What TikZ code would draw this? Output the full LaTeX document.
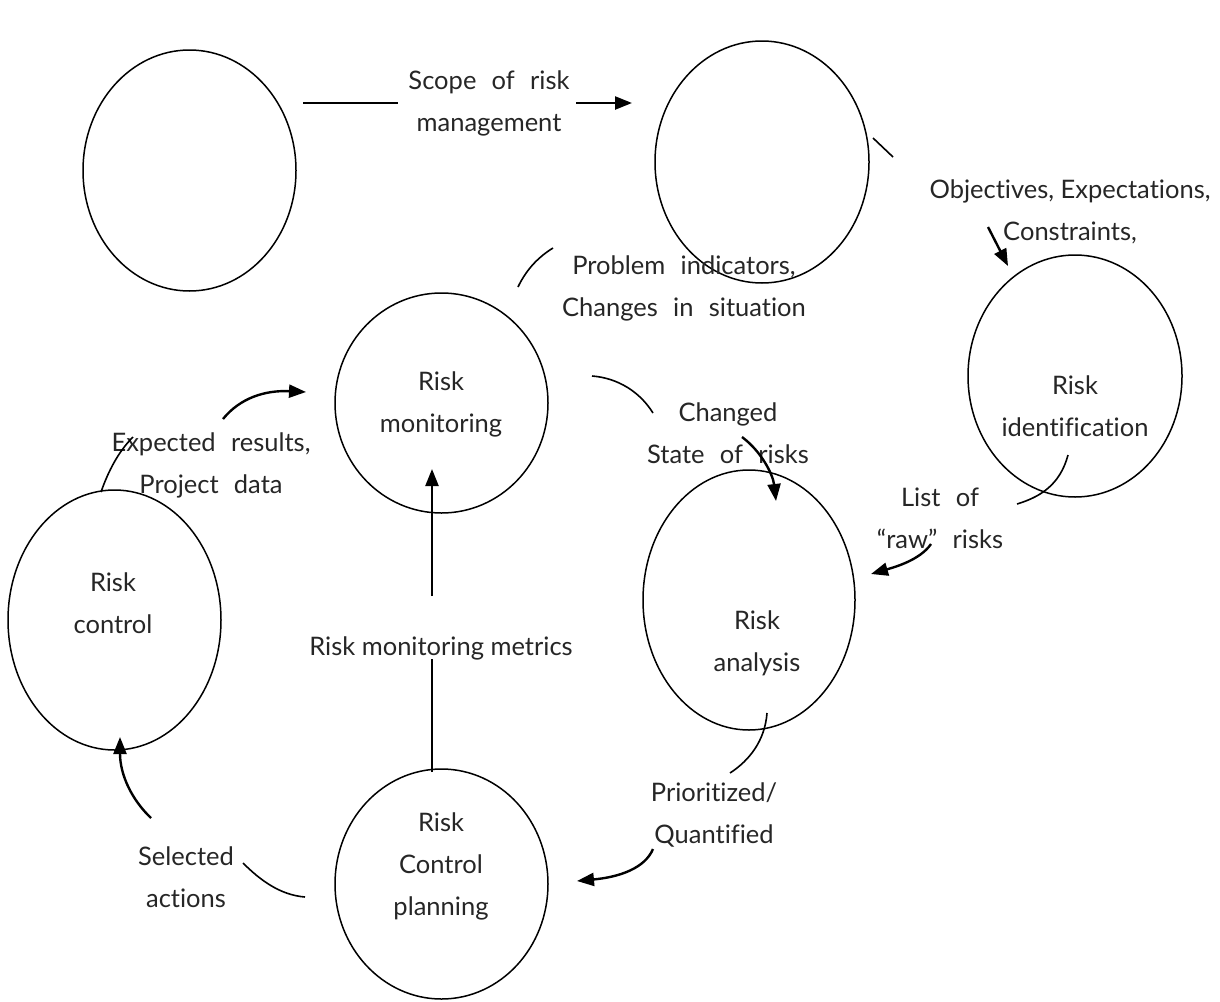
\documentclass[tikz,border=0pt]{standalone}
\usepackage{fontspec}
\setmainfont{Lato}[Ligatures=TeX,RawFeature={-liga;-dlig}]
\usetikzlibrary{shapes.geometric,arrows.meta}
\newcommand{\gp}{\hspace{0.6em}}
\begin{document}
\begin{tikzpicture}[x=1pt,y=-1pt,
  proc/.style={ellipse,draw,line width=1.5pt,inner sep=0pt},
  lbl/.style={font=\fontsize{25.5}{42}\selectfont,align=center,inner sep=0pt,text=black!85},
  con/.style={line width=1.6pt},
  arr/.style={line width=2.4pt,-{Triangle[length=17pt,width=13pt]}}]
\useasboundingbox (0,0) rectangle (1220,1001);
% processes
\node[proc,minimum width=213pt,minimum height=241pt] (c1) at (189.5,170.5) {};
\node[proc,minimum width=214pt,minimum height=242pt] (c2) at (762,162) {};
\node[proc,minimum width=214pt,minimum height=242pt] (rid) at (1075,376) {};
\node[proc,minimum width=213pt,minimum height=220pt] (rmon) at (441.5,403) {};
\node[proc,minimum width=212pt,minimum height=260pt] (ran) at (749,600) {};
\node[proc,minimum width=213pt,minimum height=260pt] (rctl) at (114.5,620) {};
\node[proc,minimum width=213pt,minimum height=230pt] (rpl) at (441.5,884) {};
% process texts
\node[lbl] (trid) at (1075,406) {Risk\\identification};
\node[lbl] (trmon) at (441,404) {Risk\\monitoring};
\node[lbl] (tran) at (757,643) {Risk\\analysis};
\node[lbl] (trctl) at (113,603) {Risk\\control};
\node[lbl] (trpl) at (441,866) {Risk\\Control\\planning};
% flow labels
\node[lbl] (lscope) at (489,103) {Scope\gp of\gp risk\\management};
\node[lbl] (lobj) at (1070,212) {Objectives, Expectations,\\Constraints,};
\node[lbl] (lprob) at (684,288) {Problem\gp indicators,\\Changes\gp in\gp situation};
\node[lbl] (lchg) at (728,433) {Changed\\State\gp of\gp risks};
\node[lbl] (lraw) at (940,518) {List\gp of\\“raw”\gp risks};
\node[lbl] (lprio) at (714,815) {Prioritized/\\Quantified};
\node[lbl] (lsel) at (186,877) {Selected\\actions};
\node[lbl] (lexp) at (211,465) {Expected\gp results,\\Project\gp data};
\node[lbl] (lmet) at (441,648) {Risk monitoring metrics};
% coordinates
\coordinate (s1) at (303,103); \coordinate (s2) at (398,103);
\coordinate (s3) at (576,103); \coordinate (s4) at (632,103);
\coordinate (o1) at (873,138); \coordinate (o2) at (893,157);
\coordinate (o3) at (988,227); \coordinate (o4) at (1008,266);
\coordinate (p1) at (518,287); \coordinate (p2) at (553,248);
\coordinate (g1) at (592,376); \coordinate (g2) at (653,413);
\coordinate (g3) at (742,437); \coordinate (g4) at (776,501);
\coordinate (r1) at (1068,455); \coordinate (r2) at (1017,504);
\coordinate (r3) at (931,544); \coordinate (r4) at (871,574);
\coordinate (q1) at (767,713); \coordinate (q2) at (730,773);
\coordinate (q3) at (653,849); \coordinate (q4) at (577,881);
\coordinate (a1) at (305,897); \coordinate (a2) at (243,863);
\coordinate (a3) at (151,818); \coordinate (a4) at (120,737);
\coordinate (e1) at (101,492); \coordinate (e2) at (133,437);
\coordinate (e3) at (223,419); \coordinate (e4) at (306,392);
\coordinate (m1) at (432,772); \coordinate (m2) at (432,659);
\coordinate (m3) at (432,596); \coordinate (m4) at (432,469);
% connectors
\draw[con] (s1) -- (s2);
\draw[arr] (s3) -- (s4);
\draw[con] (o1) -- (o2);
\draw[arr] (o3) -- (o4);
\draw[con] (p1) .. controls (527,268) and (540,256) .. (p2);
\draw[con] (g1) .. controls (618,378) and (640,392) .. (g2);
\draw[arr] (g3) .. controls (762,452) and (773,475) .. (g4);
\draw[con] (r1) .. controls (1060,485) and (1040,497) .. (r2);
\draw[arr] (r3) .. controls (920,560) and (895,567) .. (r4);
\draw[con] (q1) .. controls (765,740) and (750,760) .. (q2);
\draw[arr] (q3) .. controls (645,868) and (620,877) .. (q4);
\draw[con] (a1) .. controls (280,895) and (260,880) .. (a2);
\draw[arr] (a3) .. controls (132,800) and (120,775) .. (a4);
\draw[con] (e1) .. controls (108,472) and (118,452) .. (e2);
\draw[arr] (e3) .. controls (240,398) and (265,390) .. (e4);
\draw[con] (m1) -- (m2);
\draw[arr] (m3) -- (m4);
\end{tikzpicture}
\end{document}
